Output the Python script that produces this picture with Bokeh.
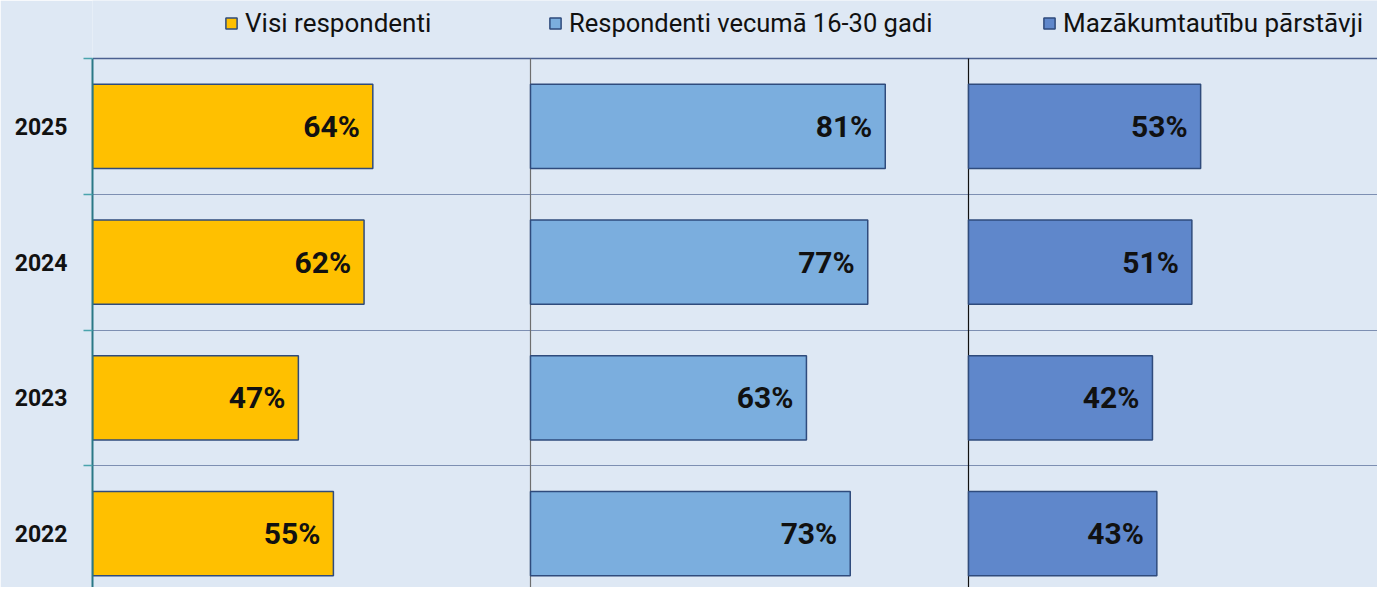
from bokeh.plotting import figure
from bokeh.models import (Range1d, FixedTicker, Legend, LegendItem, ColumnDataSource)
from bokeh.core.properties import value
from bokeh.embed import file_html
from bokeh.resources import INLINE

# ---- data ----
years = ["2025", "2024", "2023", "2022"]
visi = [64, 62, 47, 55]
jaunie = [81, 77, 63, 73]
mazak = [53, 51, 42, 43]
series_names = ["Visi respondenti", "Respondenti vecumā 16-30 gadi", "Mazākumtautību pārstāvji"]
series_values = [visi, jaunie, mazak]
series_colors = ["#FFC000", "#7BAEDE", "#5F87CB"]

BG = "#dee8f4"
FONT = "Roboto"

n = len(years)
rows = [n - i for i in range(n)]  # 2025 at top
row_px = 135.75
W, H = 1377, 587
left_px = 92
top_px = 58
y_top = 4.5 + top_px / row_px
y_bot = 4.5 - (H - top_px) / row_px

p = figure(width=W, height=H, output_backend="svg", toolbar_location=None,
           x_range=Range1d(0, (W - left_px) / 4.38), y_range=Range1d(y_bot, y_top),
           x_axis_type=None, min_border_left=left_px, min_border_right=0,
           min_border_top=0, min_border_bottom=0)
p.background_fill_color = BG
p.border_fill_color = BG
p.outline_line_color = None
p.xgrid.visible = False

# y axis
yax = p.yaxis[0]
yax.ticker = FixedTicker(ticks=rows, minor_ticks=[r + 0.5 for r in rows])
yax.major_label_overrides = {r: y for r, y in zip(rows, years)}
yax.major_tick_out = 0
yax.major_tick_in = 0
yax.minor_tick_out = 9
yax.minor_tick_in = 0
yax.minor_tick_line_color = "#4aa3ad"
yax.minor_tick_line_width = 1.5
yax.axis_line_color = "#2a7886"
yax.axis_line_width = 2
yax.bounds = (y_bot, 4.5)
yax.major_label_standoff = 16
yax.major_label_text_font = FONT
yax.major_label_text_font_size = "23px"
yax.major_label_text_font_style = "bold"
yax.major_label_text_color = "#111111"

p.ygrid.ticker = FixedTicker(ticks=[r + 0.5 for r in rows[1:]])
p.ygrid.grid_line_color = "#7d8fb2"
p.ygrid.grid_line_width = 1

# top border line and panel separators
p.segment(x0=[0], y0=[4.5], x1=[300], y1=[4.5], line_color="#4b6090", line_width=1.5)
p.segment(x0=[100], y0=[4.5], x1=[100], y1=[0], line_color="#6e6e6e", line_width=1.2)
p.segment(x0=[200], y0=[4.5], x1=[200], y1=[0], line_color="#111111", line_width=1.2)

legend_x = [132, 456, 950]
legend_fs = ["26px", "25.5px", "26px"]
for k, (name, vals, col) in enumerate(zip(series_names, series_values, series_colors)):
    off = 100 * k
    src = ColumnDataSource(dict(y=rows, left=[off] * n, right=[off + v for v in vals],
                                lab=[f"{v}%" for v in vals]))
    r = p.hbar(y="y", left="left", right="right", height=0.62, source=src,
               fill_color=col, line_color="#2f4b7c", line_width=1.5)
    p.text(x="right", y="y", text="lab", source=src, x_offset=-13,
           text_align="right", text_baseline="middle", text_font=value(FONT),
           text_font_size="30px", text_font_style="bold", text_color="#111111")
    lg = Legend(items=[LegendItem(label=name, renderers=[r])],
                location=(legend_x[k], 549), orientation="horizontal",
                padding=0, margin=0, border_line_alpha=0, background_fill_alpha=0,
                glyph_width=14, glyph_height=14, label_standoff=7,
                label_text_font=FONT, label_text_font_size=legend_fs[k],
                label_text_color="#111111", label_height=24)
    p.add_layout(lg)

open("out.html", "w").write(file_html(p, INLINE))
